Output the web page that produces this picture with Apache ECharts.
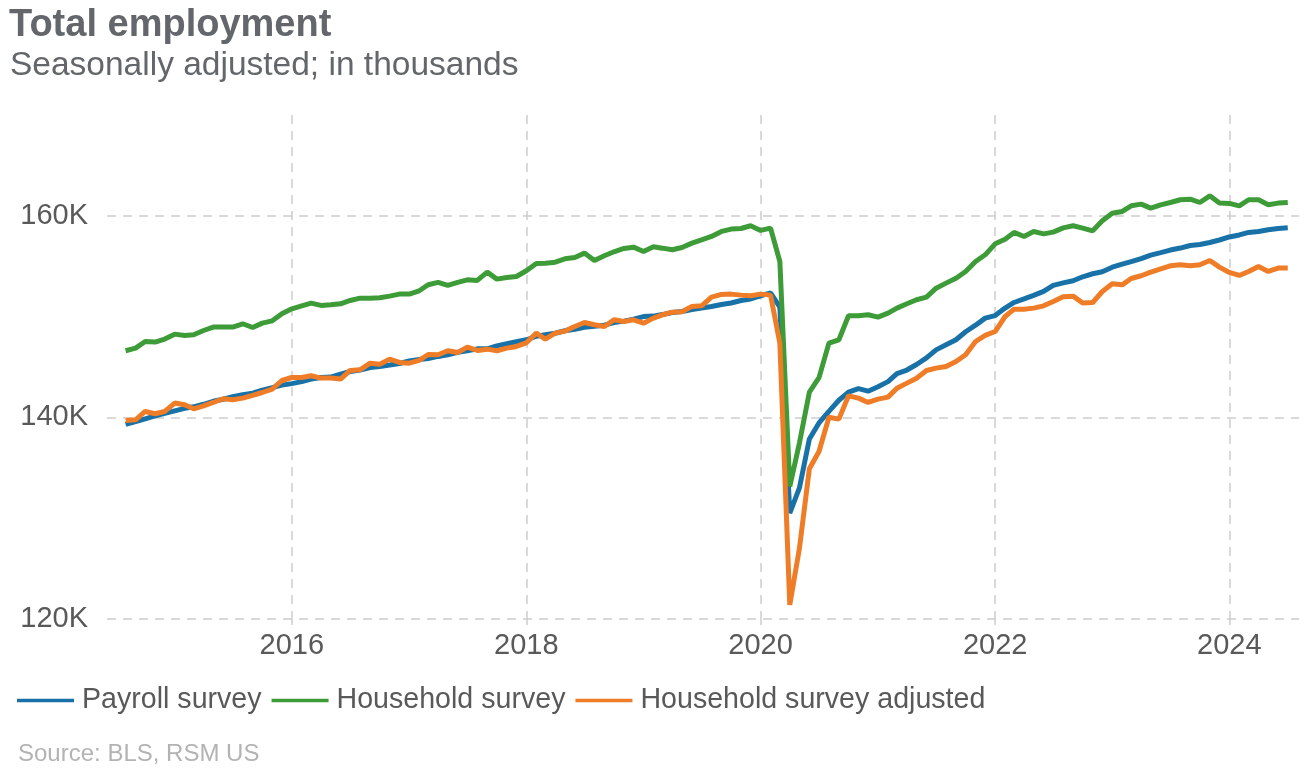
<!DOCTYPE html>
<html>
<head>
<meta charset="utf-8">
<script src="https://cdn.jsdelivr.net/npm/echarts@6/dist/echarts.min.js"></script>
<style>
html,body{margin:0;padding:0;background:#fff;}
#chart{width:1314px;height:772px;}
</style>
</head>
<body>
<div id="chart"></div>
<script>
// Months (first of month), Aug 2014 - Jul 2024
const months = [
'2014-08-01','2014-09-01','2014-10-01','2014-11-01','2014-12-01',
'2015-01-01','2015-02-01','2015-03-01','2015-04-01','2015-05-01','2015-06-01','2015-07-01','2015-08-01','2015-09-01','2015-10-01','2015-11-01','2015-12-01',
'2016-01-01','2016-02-01','2016-03-01','2016-04-01','2016-05-01','2016-06-01','2016-07-01','2016-08-01','2016-09-01','2016-10-01','2016-11-01','2016-12-01',
'2017-01-01','2017-02-01','2017-03-01','2017-04-01','2017-05-01','2017-06-01','2017-07-01','2017-08-01','2017-09-01','2017-10-01','2017-11-01','2017-12-01',
'2018-01-01','2018-02-01','2018-03-01','2018-04-01','2018-05-01','2018-06-01','2018-07-01','2018-08-01','2018-09-01','2018-10-01','2018-11-01','2018-12-01',
'2019-01-01','2019-02-01','2019-03-01','2019-04-01','2019-05-01','2019-06-01','2019-07-01','2019-08-01','2019-09-01','2019-10-01','2019-11-01','2019-12-01',
'2020-01-01','2020-02-01','2020-03-01','2020-04-01','2020-05-01','2020-06-01','2020-07-01','2020-08-01','2020-09-01','2020-10-01','2020-11-01','2020-12-01',
'2021-01-01','2021-02-01','2021-03-01','2021-04-01','2021-05-01','2021-06-01','2021-07-01','2021-08-01','2021-09-01','2021-10-01','2021-11-01','2021-12-01',
'2022-01-01','2022-02-01','2022-03-01','2022-04-01','2022-05-01','2022-06-01','2022-07-01','2022-08-01','2022-09-01','2022-10-01','2022-11-01','2022-12-01',
'2023-01-01','2023-02-01','2023-03-01','2023-04-01','2023-05-01','2023-06-01','2023-07-01','2023-08-01','2023-09-01','2023-10-01','2023-11-01','2023-12-01',
'2024-01-01','2024-02-01','2024-03-01','2024-04-01','2024-05-01','2024-06-01','2024-07-01'
];

// Thousands of persons
const payroll = [
139300,139580,139860,140150,140400,
140650,140900,141050,141300,141600,141800,142050,142250,142400,142700,142950,143200,
143350,143550,143800,143950,144000,144300,144550,144700,144950,145050,145200,145350,
145600,145750,145850,146050,146200,146450,146620,146800,146800,147100,147300,147500,
147700,148050,148200,148350,148600,148750,148950,149050,149150,149400,149550,149750,
150000,150050,150200,150400,150500,150700,150850,151000,151200,151350,151600,151750,
152050,152350,150950,130500,133000,137850,139450,140600,141700,142500,142850,142600,
143050,143550,144350,144700,145250,145900,146700,147200,147700,148500,149150,149850,
150100,150850,151400,151750,152100,152500,153100,153350,153550,153950,154250,154450,
154900,155200,155450,155750,156100,156350,156600,156800,157050,157150,157350,157600,
157900,158100,158350,158450,158620,158750,158820
];

const household = [
146610,146870,147530,147470,147770,
148260,148130,148200,148620,148960,148960,148960,149290,148920,149350,149580,150280,
150770,151070,151340,151110,151170,151270,151600,151830,151830,151870,152030,152230,
152230,152560,153160,153390,153090,153390,153650,153590,154410,153720,153880,153980,
154550,155270,155300,155400,155730,155870,156300,155570,156030,156430,156760,156890,
156460,156930,156790,156630,156860,157290,157620,157950,158450,158680,158740,159010,
158550,158780,155470,133150,137450,142500,143950,147370,147700,150080,150080,150180,
149950,150340,150840,151270,151670,151930,152820,153320,153810,154480,155470,156130,
157220,157680,158350,157950,158440,158210,158380,158800,159010,158780,158510,159500,
160260,160430,160990,161160,160760,161090,161320,161590,161650,161320,161980,161260,
161230,160990,161590,161590,161090,161260,161320
];

const householdAdj = [
139700,139760,140590,140360,140590,
141420,141250,140850,141150,141480,141850,141750,141910,142180,142470,142800,143660,
143960,143960,144130,143900,143900,143800,144660,144720,145380,145280,145780,145450,
145380,145650,146240,146210,146610,146440,146970,146640,146770,146610,146870,147040,
147400,148360,147770,148360,148560,149020,149420,149190,149020,149680,149520,149680,
149350,149850,150180,150440,150480,151010,151070,151930,152200,152230,152130,152060,
152230,152130,147370,121410,127000,134900,136620,140020,139830,142140,141910,141480,
141810,142010,142900,143400,143890,144650,144890,145050,145550,146210,147530,148130,
148520,150010,150740,150740,150840,151070,151500,151960,152030,151340,151400,152490,
153250,153150,153780,154050,154410,154740,155040,155140,155040,155140,155570,154910,
154380,154080,154480,154970,154480,154810,154810
];

const seriesNames = ['Payroll survey','Household survey','Household survey adjusted'];
const seriesColors = ['#1872a8','#3d9c37','#ef7c26'];
const yearTicks = ['2016-01-01','2018-01-01','2020-01-01','2022-01-01','2024-01-01'];
const xRange = ['2014-06-04','2024-08-05'];
const yTicks = [120000,140000,160000];

const gridColor = '#cdcdcd';
const labelColor = '#595959';
const FONT = '"Liberation Sans", Arial, sans-serif';

const ts = (d) => Date.parse(d + 'T00:00:00Z');
const toSeries = (arr) => months.map((m, i) => [ts(m), arr[i]]);
const allData = [payroll, household, householdAdj];

const chart = echarts.init(document.getElementById('chart'), null, {renderer:'canvas'});
chart.setOption({
  animation: false,
  backgroundColor: '#ffffff',
  textStyle: { fontFamily: FONT },
  title: [
    { text: 'Total employment', left: 4, top: 2,
      textStyle: { fontSize: 38, fontWeight: 'bold', color: '#63666a', fontFamily: FONT } },
    { text: 'Seasonally adjusted; in thousands', left: 5, top: 44,
      textStyle: { fontSize: 33.5, fontWeight: 'normal', color: '#63666a', fontFamily: FONT } },
    { text: 'Source: BLS, RSM US', left: 13, top: 737,
      textStyle: { fontSize: 24, fontWeight: 'normal', color: '#b3b3b3', fontFamily: FONT } }
  ],
  legend: {
    data: seriesNames,
    left: 12, top: 681,
    icon: 'rect', itemWidth: 57, itemHeight: 3.5, itemGap: 10,
    textStyle: { fontSize: 28.6, color: labelColor, padding: [0,0,0,3], fontFamily: FONT }
  },
  grid: { left: 107, right: 15, top: 115, bottom: 153, containLabel: false },
  xAxis: {
    type: 'value',
    min: ts(xRange[0]), max: ts(xRange[1]),
    axisLine: { show: false },
    axisTick: { show: true, customValues: yearTicks.map(ts), length: 6, lineStyle: { color: gridColor, width: 1.5 } },
    axisLabel: { customValues: yearTicks.map(ts), fontSize: 29, color: labelColor, margin: 12,
      formatter: (v) => String(new Date(v).getUTCFullYear()), hideOverlap: false,
      showMinLabel: true, showMaxLabel: true },
    splitLine: { show: true, lineStyle: { color: gridColor, width: 1.5, type: [9, 7] } }
  },
  yAxis: {
    type: 'value',
    min: 120000, max: 170000, interval: 20000,
    axisLine: { show: false },
    axisTick: { show: false, customValues: yTicks },
    axisLabel: { customValues: yTicks, fontSize: 29, color: labelColor, margin: 19,
      formatter: (v) => (v / 1000) + 'K' },
    splitLine: { show: true, lineStyle: { color: gridColor, width: 1.5, type: [9, 7] } }
  },
  series: seriesNames.map((name, i) => ({
    name: name,
    type: 'line',
    data: toSeries(allData[i]),
    showSymbol: false,
    symbol: 'none',
    color: seriesColors[i],
    lineStyle: { width: 5, color: seriesColors[i] },
    z: 3 + i
  }))
});
</script>
</body>
</html>
